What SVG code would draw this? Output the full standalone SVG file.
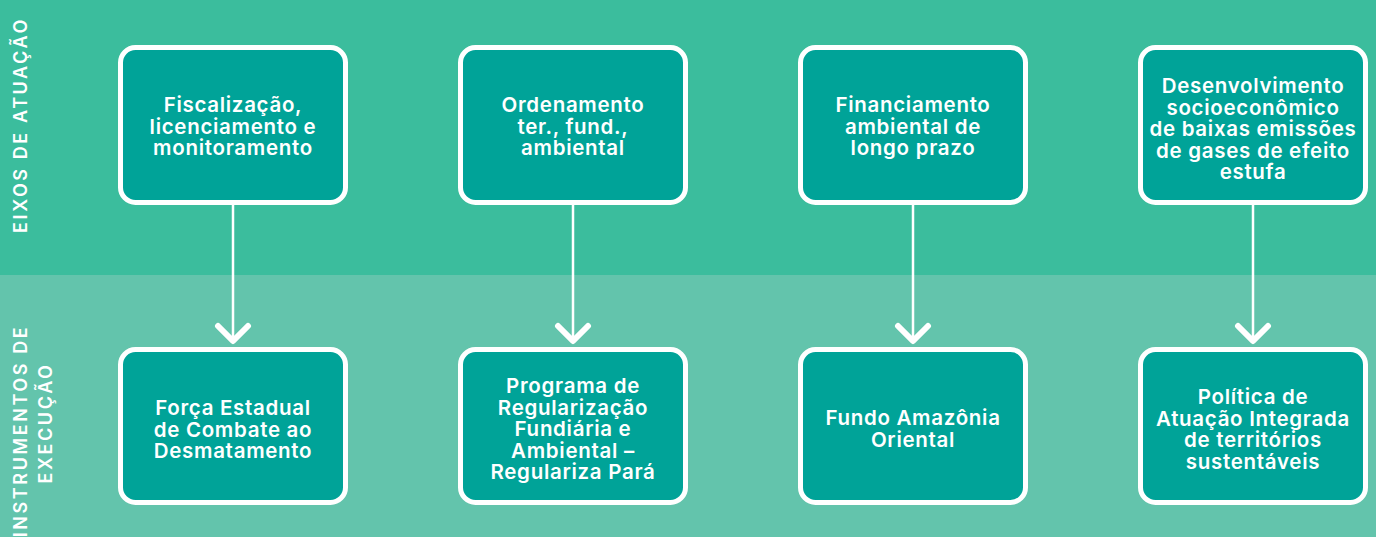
<svg xmlns="http://www.w3.org/2000/svg" width="1376" height="537" viewBox="0 0 1376 537">
<style>
.box{fill:#00A398;stroke:#fff;stroke-width:5}
.t{fill:#fff;font-family:Inter,"Open Sans","Liberation Sans",sans-serif;font-weight:600;font-size:20.5px;letter-spacing:0.7px;text-anchor:middle}
.lbl{fill:#fff;font-family:Inter,"Open Sans","Liberation Sans",sans-serif;font-weight:600;font-size:18px;letter-spacing:2.6px;text-anchor:middle}
.ln{stroke:#fff;stroke-width:2.5;fill:none}
.hd{stroke:#fff;stroke-width:6;fill:none;stroke-linecap:round;stroke-linejoin:round}
</style>
<rect x="0" y="0" width="1376" height="275" fill="#3BBD9D"/>
<rect x="0" y="275" width="1376" height="262" fill="#63C4AC"/>
<g id="lanes">
<text class="lbl" transform="translate(27,125) rotate(-90)">EIXOS DE ATUAÇÃO</text>
<text class="lbl" transform="translate(27,431) rotate(-90)">INSTRUMENTOS DE</text>
<text class="lbl" transform="translate(52,423) rotate(-90)">EXECUÇÃO</text>
</g>
<g id="connectors">
<path class="ln" d="M233 204V340M573 204V340M913 204V340M1253 204V340"/>
<path class="hd" d="M218 326L233 341L248 326M558 326L573 341L588 326M898 326L913 341L928 326M1238 326L1253 341L1268 326"/>
</g>
<g id="n1"><rect class="box" x="120.5" y="47.5" width="225" height="155" rx="15"/>
<text class="t" x="233" y="112">Fiscalização,</text><text class="t" x="233" y="133.5">licenciamento e</text><text class="t" x="233" y="155">monitoramento</text></g>
<g id="n2"><rect class="box" x="460.5" y="47.5" width="225" height="155" rx="15"/>
<text class="t" x="573" y="112">Ordenamento</text><text class="t" x="573" y="133.5">ter., fund.,</text><text class="t" x="573" y="155">ambiental</text></g>
<g id="n3"><rect class="box" x="800.5" y="47.5" width="225" height="155" rx="15"/>
<text class="t" x="913" y="112">Financiamento</text><text class="t" x="913" y="133.5">ambiental de</text><text class="t" x="913" y="155">longo prazo</text></g>
<g id="n4"><rect class="box" x="1140.5" y="47.5" width="225" height="155" rx="15"/>
<text class="t" x="1253" y="93">Desenvolvimento</text><text class="t" x="1253" y="114.5">socioeconômico</text><text class="t" x="1253" y="136">de baixas emissões</text><text class="t" x="1253" y="157.5">de gases de efeito</text><text class="t" x="1253" y="179">estufa</text></g>
<g id="n5"><rect class="box" x="120.5" y="349.5" width="225" height="153" rx="15"/>
<text class="t" x="233" y="415">Força Estadual</text><text class="t" x="233" y="436.5">de Combate ao</text><text class="t" x="233" y="458">Desmatamento</text></g>
<g id="n6"><rect class="box" x="460.5" y="349.5" width="225" height="153" rx="15"/>
<text class="t" x="573" y="393">Programa de</text><text class="t" x="573" y="414.5">Regularização</text><text class="t" x="573" y="436">Fundiária e</text><text class="t" x="573" y="457.5">Ambiental –</text><text class="t" x="573" y="479">Regulariza Pará</text></g>
<g id="n7"><rect class="box" x="800.5" y="349.5" width="225" height="153" rx="15"/>
<text class="t" x="913" y="425">Fundo Amazônia</text><text class="t" x="913" y="446.5">Oriental</text></g>
<g id="n8"><rect class="box" x="1140.5" y="349.5" width="225" height="153" rx="15"/>
<text class="t" x="1253" y="404">Política de</text><text class="t" x="1253" y="425.5">Atuação Integrada</text><text class="t" x="1253" y="447">de territórios</text><text class="t" x="1253" y="468.5">sustentáveis</text></g>
</svg>
